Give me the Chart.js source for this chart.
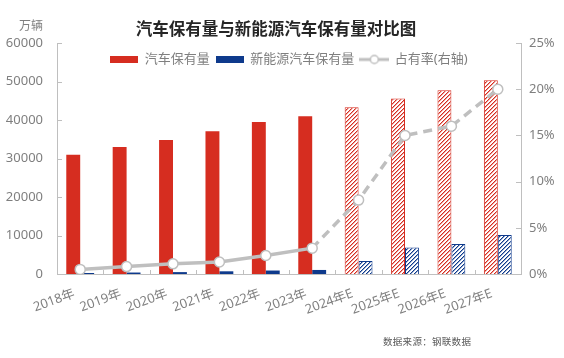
<!DOCTYPE html>
<html><head><meta charset="utf-8">
<script src="https://cdn.jsdelivr.net/npm/chart.js@4.4.1/dist/chart.umd.min.js"></script>
<style>
html,body{margin:0;padding:0;background:#fff;}
#wrap{position:relative;width:564px;height:358px;}
#unit{position:absolute;right:521px;top:19px;font:12px/12px "Noto Sans CJK SC",sans-serif;color:#7f7f7f;white-space:nowrap;}
#src{position:absolute;left:383px;top:337px;font:9.5px/9.5px "Noto Sans CJK SC",sans-serif;color:#595959;letter-spacing:0.3px;white-space:nowrap;}
</style></head>
<body>
<div id="wrap"><canvas id="c" width="564" height="358"></canvas>
<div id="unit">万辆</div><div id="src">数据来源：钢联数据</div></div>
<script>
// ---- data ----
const categories = ['2018年','2019年','2020年','2021年','2022年','2023年','2024年E','2025年E','2026年E','2027年E'];
const carStock = [31000, 33000, 34800, 37100, 39500, 41000, 43300, 45600, 47700, 50300];
const nevStock = [260, 380, 490, 700, 900, 1050, 3400, 6900, 7800, 10100];
const nevShare = [0.5, 0.8, 1.1, 1.3, 2.0, 2.8, 8.0, 15.0, 16.0, 20.0];
const leftTicks = [0, 10000, 20000, 30000, 40000, 50000, 60000];
const rightTicks = [0, 5, 10, 15, 20, 25];
const seriesNames = ['汽车保有量', '新能源汽车保有量', '占有率(右轴)'];
const titleText = '汽车保有量与新能源汽车保有量对比图';

// ---- styles ----
const RED = '#d62d20', BLUE = '#0e3a8c', GRAY = '#bfbfbf', TXT = '#7f7f7f';
const canvas = document.getElementById('c');
const mainCtx = canvas.getContext('2d');
function hatch(rgb){
  const s = 4, c = document.createElement('canvas'); c.width = s; c.height = s;
  const g = c.getContext('2d');
  g.fillStyle = '#fff'; g.fillRect(0,0,s,s);
  for (let yy = 0; yy < s; yy++){
    const xx = s - 1 - yy;
    g.fillStyle = 'rgb(' + rgb + ')'; g.fillRect(xx, yy, 1, 1);
    g.fillStyle = 'rgba(' + rgb + ',0.45)'; g.fillRect((xx + 1) % s, yy, 1, 1);
  }
  return mainCtx.createPattern(c,'repeat');
}
const redHatch = hatch('214,45,32'), blueHatch = hatch('14,58,140');
const isForecast = categories.map(c => c.includes('E'));

function boxIcon(color){
  const c = document.createElement('canvas'); c.width = 28; c.height = 7;
  const g = c.getContext('2d'); g.fillStyle = color; g.fillRect(0,0,28,7); return c;
}
function lineIcon(){
  const c = document.createElement('canvas'); c.width = 30; c.height = 12;
  const g = c.getContext('2d');
  g.strokeStyle = GRAY; g.lineWidth = 3; g.beginPath(); g.moveTo(0,6); g.lineTo(30,6); g.stroke();
  g.fillStyle = '#fff'; g.lineWidth = 1.5; g.beginPath(); g.arc(15,6,4,0,Math.PI*2); g.fill(); g.stroke();
  return c;
}
const legendIcons = [boxIcon(RED), boxIcon(BLUE), lineIcon()];

const layoutTweaks = {
  id: 'layoutTweaks',
  beforeLayout(chart){
    const lg = chart.legend;
    if (lg && !lg._patched){
      const orig = lg.fit.bind(lg);
      lg.fit = function(){ orig(); this._realH = this.height; this.height = 0; };
      lg._patched = true;
    }
  },
  afterLayout(chart){
    const lg = chart.legend;
    if (lg){ lg.top += 4; lg.height = lg._realH; lg.bottom = lg.top + lg._realH; lg.left += 7; lg.right += 7; }
    const tb = chart.titleBlock;
    if (tb){ tb.left -= 6; tb.right -= 6; }
  },
  beforeDatasetsDraw(chart){
    const {ctx, scales:{x, y, y1}} = chart;
    ctx.save(); ctx.strokeStyle = GRAY; ctx.lineWidth = 1; ctx.beginPath();
    y.ticks.forEach((t,i) => { const p = Math.round(y.getPixelForTick(i)) + 0.5; ctx.moveTo(x.left, p); ctx.lineTo(x.left + 5, p); });
    y1.ticks.forEach((t,i) => { const p = Math.round(y1.getPixelForTick(i)) + 0.5; ctx.moveTo(x.right, p); ctx.lineTo(x.right - 5, p); });
    for (let i = 1; i < categories.length; i++){
      const p = Math.round((x.getPixelForValue(i-1) + x.getPixelForValue(i)) / 2) + 0.5;
      ctx.moveTo(p, x.top); ctx.lineTo(p, x.top - 4);
    }
    ctx.stroke(); ctx.restore();
  }
};

Chart.defaults.font.family = '"Noto Sans","Noto Sans CJK SC",sans-serif';
Chart.defaults.color = TXT;

new Chart(canvas, {
  data: {
    labels: categories,
    datasets: [
      { type:'bar', label: seriesNames[0], data: carStock, yAxisID:'y', order: 1,
        backgroundColor: isForecast.map(f => f ? redHatch : RED),
        borderColor: RED, borderWidth: isForecast.map(f => f ? 1 : 0),
        categoryPercentage: 0.6, barPercentage: 1.0 },
      { type:'bar', label: seriesNames[1], data: nevStock, yAxisID:'y', order: 2,
        backgroundColor: isForecast.map(f => f ? blueHatch : BLUE),
        borderColor: BLUE, borderWidth: isForecast.map(f => f ? 1 : 0),
        categoryPercentage: 0.6, barPercentage: 1.0 },
      { type:'line', label: seriesNames[2], data: nevShare, yAxisID:'y1', order: 0,
        borderColor: GRAY, borderWidth: 3.5, tension: 0,
        pointRadius: 5, pointBackgroundColor: '#fff', pointBorderColor: GRAY, pointBorderWidth: 1.5,
        segment: { borderDash: c => isForecast[c.p1DataIndex] ? [9, 6] : undefined } }
    ]
  },
  options: {
    responsive: false, animation: false, devicePixelRatio: 1,
    layout: { padding: 0 },
    plugins: {
      tooltip: { enabled: false },
      title: { display: true, text: titleText, color: '#262626',
        font: { size: 16.5, weight: 'bold', family: '"Noto Sans CJK SC",sans-serif' }, padding: { top: 18.6, bottom: 4.6 } },
      legend: { display: true, position: 'top',
        labels: { usePointStyle: true, pointStyleWidth: 28, boxHeight: 7, padding: 6,
          font: { size: 13 }, color: TXT,
          generateLabels: (chart) => chart.data.datasets.map((ds, i) => ({
            text: ds.label, pointStyle: legendIcons[i], fillStyle: 'transparent',
            strokeStyle: 'transparent', lineWidth: 0, hidden: !chart.isDatasetVisible(i),
            datasetIndex: i, fontColor: TXT })) } }
    },
    scales: {
      x: { grid: { display: false, drawTicks: false, tickLength: 0 }, border: { display: true, color: GRAY },
        ticks: { autoSkip: false, minRotation: 20, maxRotation: 20, font: { size: 13 }, color: TXT, padding: 12, labelOffset: -6 },
        afterFit: s => { s.height = 84; } },
      y: { position: 'left', min: 0, max: 60000, grid: { display: false, drawTicks: false, tickLength: 0 },
        border: { display: true, color: GRAY },
        afterBuildTicks: s => { s.ticks = leftTicks.map(v => ({ value: v })); },
        ticks: { font: { size: 13 }, color: TXT, padding: 14, callback: v => String(v) },
        afterFit: s => { s.width = 57; } },
      y1: { position: 'right', min: 0, max: 25, grid: { display: false, drawTicks: false, tickLength: 0 },
        border: { display: true, color: GRAY },
        afterBuildTicks: s => { s.ticks = rightTicks.map(v => ({ value: v })); },
        ticks: { font: { size: 13 }, color: TXT, padding: 8, callback: v => v + '%' },
        afterFit: s => { s.width = 43; } }
    }
  },
  plugins: [layoutTweaks]
});
</script>
</body></html>
